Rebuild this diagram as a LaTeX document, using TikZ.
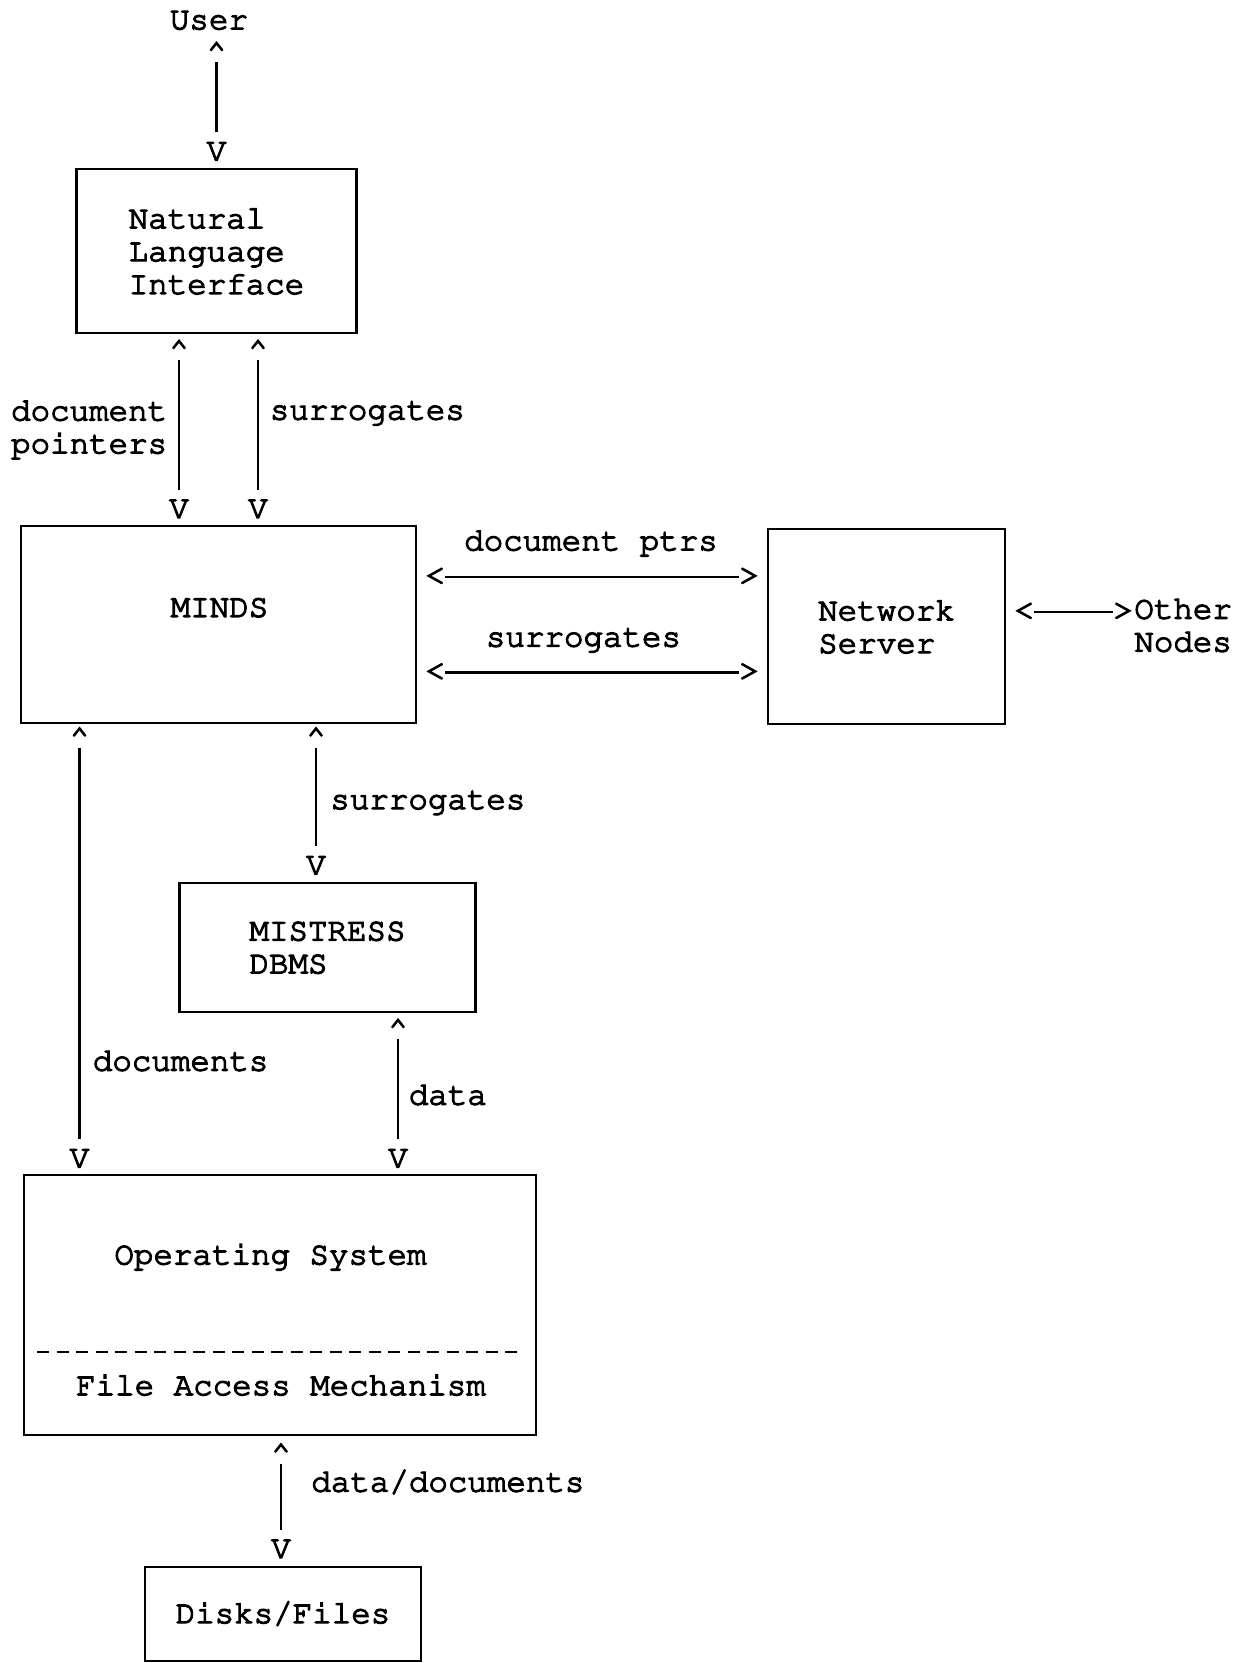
\documentclass[tikz,border=0pt]{standalone}
\usepackage[T1]{fontenc}
\usepackage{courier}
\usepackage{tikz}

\newcommand{\heavyink}{\special{pdf:literal direct 2 Tr 0.7 w}}

\begin{document}
\begin{tikzpicture} [scale = 1,
  every node/.style = {font = \fontsize{18.5}{18.7}\selectfont\ttfamily\heavyink, inner sep = 0pt},
  box/.style = {draw, black, line width = 1.2pt},
  arrowhd/.style = {black, anchor = base},
  wire/.style = {black, line width = 1.2pt}]
\useasboundingbox (0, 0) rectangle (25.06, 33.26);
% boxes
\node[box, minimum width = 5.6cm, minimum height = 3.29cm, align = left] (nli) at (4.33, 28.24){Natural\\Language\\Interface};
\node[box, minimum width = 7.9cm, minimum height = 3.93cm] (minds) at (4.37, 20.77){};
\node[black] (mindstxt) at (4.39, 21.11){MINDS};
\node[box, minimum width = 4.74cm, minimum height = 3.9cm, align = left] (server) at (17.73, 20.73){Network\\Server};
\node[box, minimum width = 5.92cm, minimum height = 2.59cm, align = left] (mistress) at (6.55, 14.31){MISTRESS\\DBMS};
\node[box, minimum width = 10.25cm, minimum height = 5.2cm] (os) at (5.6, 7.16){};
\node[black] (ostxt) at (5.41, 8.13){Operating System};
\draw[black, line width = 1.2pt, dash pattern = on 0.24cm off 0.15cm] (0.74, 6.22) -- (10.46, 6.22);
\node[black] (famtxt) at (5.62, 5.56){File Access Mechanism};
\node[box, minimum width = 5.53cm, minimum height = 1.87cm] (disks) at (5.66, 0.98){Disks/Files};
% labels
\node[black] (user) at (4.18, 32.85){User};
\node[black, anchor = east, align = left] (ptrlbl) at (3.35, 24.68){document\\pointers};
\node[black, anchor = west] (surlbla) at (5.39, 25.0){surrogates};
\node[black] (ptrslbl) at (11.82, 22.41){document ptrs};
\node[black] (surlblb) at (11.67, 20.46){surrogates};
\node[black, anchor = west, align = left] (others) at (22.68, 20.76){Other\\Nodes};
\node[black, anchor = west] (surlblc) at (6.6, 17.21){surrogates};
\node[black, anchor = west] (doclbl) at (1.85, 12.05){documents};
\node[black, anchor = west] (datalbl) at (8.17, 11.37){data};
\node[black, anchor = west] (ddlbl) at (6.22, 3.61){data/documents};
% arrow heads, typed
\node[arrowhd] (upa) at (4.33, 32.02){\textasciicircum};
\node[arrowhd] (dna) at (4.33, 30.05){V};
\node[arrowhd] (upb) at (3.58, 26.06){\textasciicircum};
\node[arrowhd] (dnb) at (3.58, 22.9){V};
\node[arrowhd] (upc) at (5.16, 26.06){\textasciicircum};
\node[arrowhd] (dnc) at (5.16, 22.9){V};
\node[arrowhd] (upd) at (1.59, 18.31){\textasciicircum};
\node[arrowhd] (dnd) at (1.59, 9.91){V};
\node[arrowhd] (upe) at (6.32, 18.31){\textasciicircum};
\node[arrowhd] (dne) at (6.32, 15.77){V};
\node[arrowhd] (upf) at (7.96, 12.48){\textasciicircum};
\node[arrowhd] (dnf) at (7.96, 9.91){V};
\node[arrowhd] (upg) at (5.62, 3.99){\textasciicircum};
\node[arrowhd] (dng) at (5.62, 2.1){V};
\node[arrowhd] (lta) at (8.7, 21.56){<};
\node[arrowhd] (gta) at (14.98, 21.56){>};
\node[arrowhd] (ltb) at (8.7, 19.65){<};
\node[arrowhd] (gtb) at (14.98, 19.65){>};
\node[arrowhd] (ltc) at (20.48, 20.86){<};
\node[arrowhd] (gtc) at (22.46, 20.86){>};
% connectors
\foreach \a/\b in {upa/dna, upb/dnb, upc/dnc, upd/dnd, upe/dne, upf/dnf, upg/dng}
  \draw[wire, shorten > = 0.2cm] (\a.south) -- (\b.north);
\foreach \a/\b in {lta/gta, ltb/gtb, ltc/gtc}
  \draw[wire] (\a.east) -- (\b.west);
\end{tikzpicture}
\end{document}
